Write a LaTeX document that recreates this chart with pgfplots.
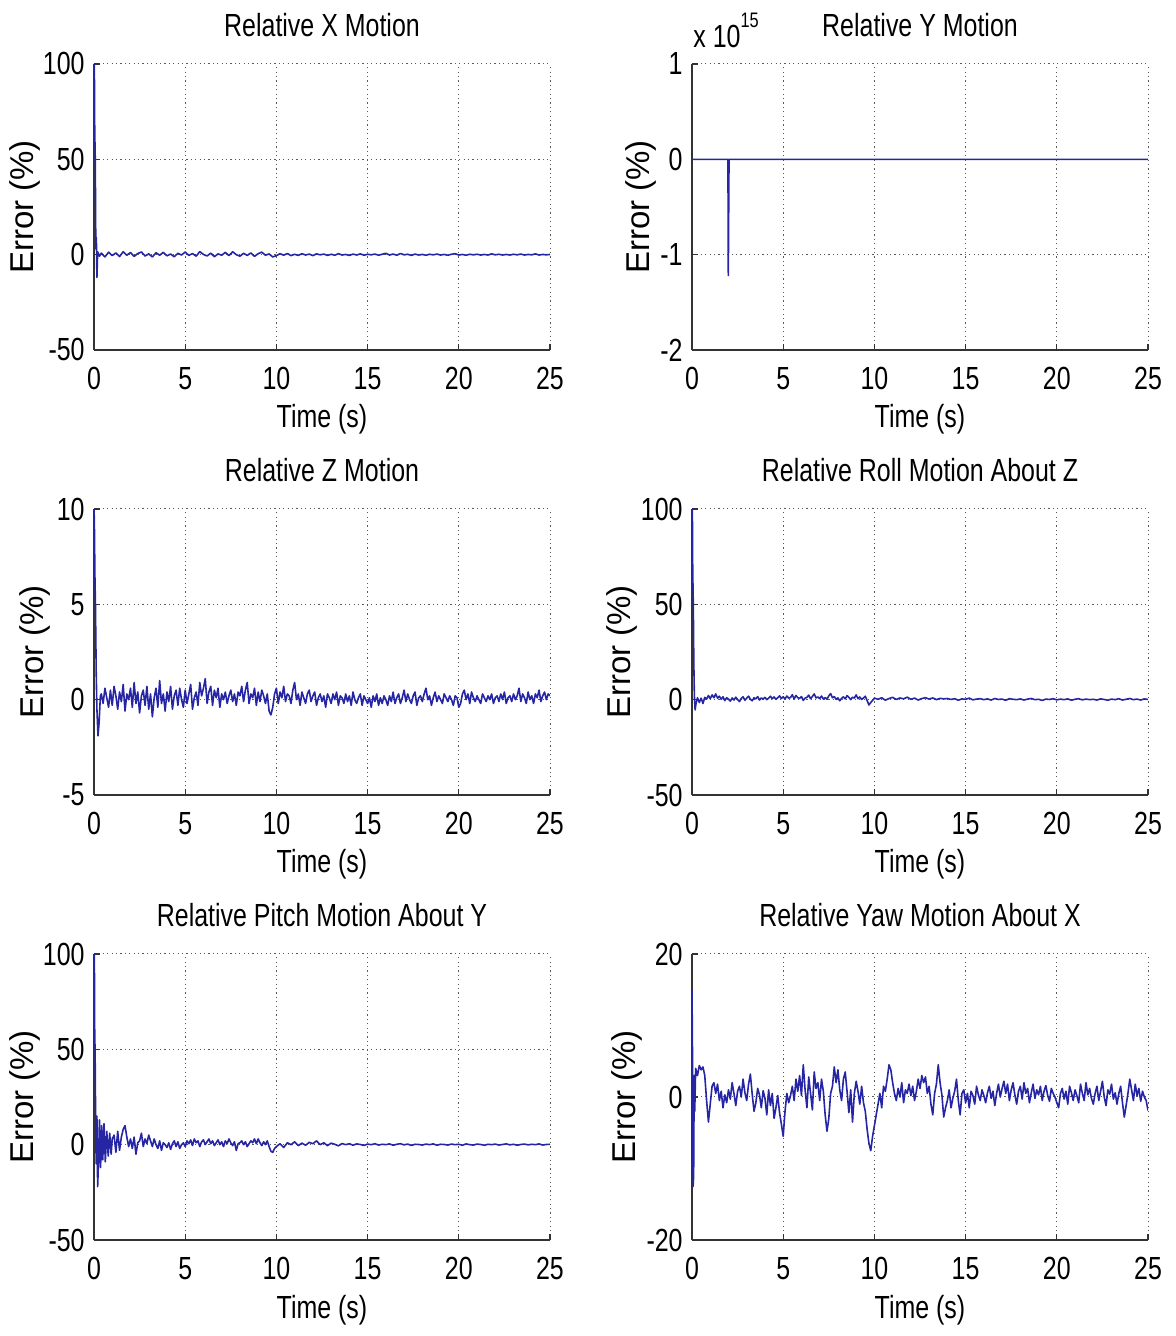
\documentclass[border=0pt]{standalone}
\usepackage{fontspec}
\setmainfont[FakeStretch=0.78]{Liberation Sans}
\newfontfamily\ylabfont{Liberation Sans}
\usepackage{pgfplots}
\pgfplotsset{compat=1.18}
\definecolor{mblue}{RGB}{38,38,165}
\pgfplotsset{
  mat/.style={
    scale only axis, width=228pt, height=143pt, anchor=south west,
    xmin=0, xmax=25, xtick={0,5,10,15,20,25}, xticklabels={0,5,10,15,20,25},
    axis lines*=left, tick align=inside, major tick length=3pt,
    grid=major, grid style={dash pattern=on 0.6pt off 1.6pt, black!65, line width=0.5pt},
    axis line style={black!80, line width=0.7pt},
    tick style={black!80, line width=0.6pt},
    xticklabel style={anchor=north, inner sep=0pt, yshift=-8.5pt},
    yticklabel style={anchor=east, inner sep=0pt, xshift=-4.5pt},
    xlabel={Time (s)},
    xlabel style={at={(axis description cs:0.5,0)}, anchor=base, yshift=-39pt, inner sep=0pt},
    title style={at={(axis description cs:0.5,1)}, anchor=base, yshift=7.5pt, inner sep=0pt},
    ylabel={\ylabfont\fontsize{16.5}{19}\selectfont Error (\%)},
    cycle list={{mblue, mark=none}},
    no markers,
    every axis plot post/.append style={line width=0.8pt, color=mblue, line join=round},
    clip mode=individual,
  },
  ylab/.style={ylabel style={at={([xshift=-#1]axis description cs:0,0.5)}, anchor=center, inner sep=0pt}},
}
\begin{document}
\fontsize{16}{19}\selectfont
\begin{tikzpicture}
\useasboundingbox (0,0) rectangle (587.5pt,668pt);
% ---------- Relative X Motion
\begin{axis}[mat, ylab=34.5pt, at={(47pt,493pt)}, title={Relative X Motion},
  ymin=-50, ymax=100, ytick={-50,0,50,100}, yticklabels={-50,0,50,100}]
\addplot coordinates {(0,100)(0.02,100)(0.04,65)(0.07,50)(0.1,3)(0.13,9)(0.16,-12)(0.2,1.5)(0.3,-0.8)
(0.4,0.8)(0.6,-1.2)(0.8,1.3)(1,-0.5)(1.2,0.9)(1.4,-1)(1.6,1.5)(1.8,-0.3)(2,1.1)(2.2,-0.9)(2.4,0.6)(2.6,1.4)(2.8,-0.7)(3,0.4)(3.2,-1.2)(3.4,1)(3.6,-0.3)(3.8,1.2)(4,-0.6)(4.2,0.3)(4.4,-1.1)(4.6,0.7)(4.8,-0.2)(5,1.4)(5.2,-0.4)(5.4,0.6)(5.6,-0.8)(5.8,1.6)(6,0.1)(6.2,-0.7)(6.4,0.8)(6.6,-1.1)(6.8,0.4)(7,-0.3)(7.2,1.2)(7.4,-0.5)(7.6,1.5)(7.8,0)(8,-0.8)(8.2,0.7)(8.4,-0.4)(8.6,0.9)(8.8,-0.9)(9,0.5)(9.2,1.3)(9.4,-0.3)(9.6,0.4)(9.8,-1.2)(10,-0.5)
(10.2,0.5)(10.4,-0.3)(10.6,0.6)(10.8,-0.5)(11,0.2)(11.2,-0.4)(11.4,0.5)(11.6,-0.2)(11.8,0.3)(12,-0.5)(12.2,0.4)(12.4,-0.1)(12.6,0.3)(12.8,-0.4)(13,0.2)(13.2,-0.3)(13.4,0.5)(13.6,-0.2)(13.8,0.1)(14,-0.4)(14.2,0.3)(14.4,-0.2)(14.6,0.4)(14.8,-0.3)(15,0.2)(15.2,-0.1)(15.4,0.3)(15.6,-0.3)(15.8,0.2)(16,0.7)(16.2,-0.2)(16.4,0.3)(16.6,-0.3)(16.8,0.6)(17,-0.1)(17.2,0.2)(17.4,-0.4)(17.6,0.3)(17.8,-0.2)(18,0.1)(18.2,-0.3)(18.4,0.2)(18.6,-0.1)(18.8,0.3)(19,-0.2)(19.2,0.1)(19.4,-0.3)(19.6,0.2)(19.8,0.5)(20,-0.2)(20.2,0.1)(20.4,-0.3)(20.6,0.2)(20.8,-0.1)(21,0.2)(21.2,-0.2)(21.4,0.1)(21.6,-0.2)(21.8,0.4)(22,-0.1)(22.2,0.2)(22.4,-0.2)(22.6,0.1)(22.8,-0.2)(23,0.2)(23.2,-0.1)(23.4,0.3)(23.6,-0.2)(23.8,0.1)(24,-0.1)(24.2,0.4)(24.4,-0.2)(24.6,0.1)(24.8,-0.1)(25,0.1)};
\end{axis}
% ---------- Relative Y Motion
\begin{axis}[mat, ylab=25.5pt, at={(346pt,493pt)}, title={Relative Y Motion},
  ymin=-2, ymax=1, ytick={-2,-1,0,1}, yticklabels={-2,-1,0,1}]
\addplot coordinates {(0,0)(1.97,0)(1.99,-1.22)(2.01,-0.6)(2.03,0)(25,0)};
\node[anchor=base west, inner sep=0pt, yshift=8pt, xshift=0.5pt] at (rel axis cs:0,1) {x 10\raisebox{10pt}{\fontsize{10.5}{12}\selectfont 15}};
\end{axis}
% ---------- Relative Z Motion
\begin{axis}[mat, ylab=29.5pt, at={(47pt,270.5pt)}, title={Relative Z Motion},
  ymin=-5, ymax=10, ytick={-5,0,5,10}, yticklabels={-5,0,5,10}]
\addplot coordinates {(0,10)(0.02,9.4)(0.05,6.5)(0.08,5)(0.12,1.5)(0.16,-0.5)(0.22,-1.9)(0.28,-1.2)(0.35,0.2)
(0.4,0.3)(0.5,-0.2)(0.6,0.6)(0.7,0.1)(0.8,-0.4)(0.9,0.5)
(1,-0.3)(1.1,0.7)(1.2,0.2)(1.3,-0.5)(1.4,0.4)(1.5,-0.1)(1.6,0.8)(1.7,-0.6)(1.8,0.3)(1.9,0)
(2,0.6)(2.1,-0.4)(2.2,0.9)(2.3,-0.2)(2.4,0.4)(2.5,-0.7)(2.6,0.2)(2.7,0.5)(2.8,-0.3)(2.9,0.7)
(3,-0.5)(3.1,0.3)(3.2,-0.9)(3.3,0.1)(3.4,0.6)(3.5,-0.4)(3.6,1)(3.7,-0.2)(3.8,0.3)(3.9,-0.6)
(4,0.4)(4.1,-0.1)(4.2,0.7)(4.3,-0.5)(4.4,0.2)(4.5,0.5)(4.6,-0.3)(4.7,0.6)(4.8,0)(4.9,-0.4)
(5,0.5)(5.1,-0.2)(5.2,0.3)(5.3,0.8)(5.4,-0.5)(5.5,0.1)(5.6,0.4)(5.7,-0.3)(5.8,0.9)(5.9,0.2)
(6,0.6)(6.1,1.1)(6.2,-0.2)(6.3,0.4)(6.4,0.7)(6.5,-0.3)(6.6,0.5)(6.7,0.1)(6.8,0.6)(6.9,-0.4)
(7,0.3)(7.1,0)(7.2,0.4)(7.3,-0.2)(7.4,0.2)(7.5,0.5)(7.6,-0.1)(7.7,0.3)(7.8,-0.3)(7.9,0.4)
(8,0.2)(8.1,0.7)(8.2,-0.1)(8.3,0.5)(8.4,0.9)(8.5,-0.2)(8.6,0.3)(8.7,0.1)(8.8,0.6)(8.9,-0.3)
(9,0.4)(9.1,-0.1)(9.2,0.5)(9.3,0.2)(9.4,-0.2)(9.5,0.3)(9.6,-0.6)(9.7,-0.8)(9.8,-0.4)(9.9,0.3)
(10,0.6)(10.1,-0.2)(10.2,0.4)(10.3,0.1)(10.4,0.7)(10.5,-0.1)(10.6,0.3)(10.7,0.2)(10.8,-0.2)(10.9,0.5)
(11,0.9)(11.1,0)(11.2,0.3)(11.3,-0.3)(11.4,0.4)(11.5,0.1)(11.6,-0.2)(11.7,0.3)(11.8,0.5)(11.9,-0.1)
(12,0.2)(12.1,0.4)(12.2,-0.3)(12.3,0.1)(12.4,0.3)(12.5,-0.1)(12.6,0.2)(12.7,-0.4)(12.8,0.3)(12.9,0.1)
(13,-0.2)(13.1,0.3)(13.2,0)(13.3,0.4)(13.4,-0.3)(13.5,0.2)(13.6,0.1)(13.7,-0.2)(13.8,0.3)(13.9,-0.1)
(14,0.2)(14.1,-0.3)(14.2,0.4)(14.3,0)(14.4,-0.2)(14.5,0.1)(14.6,0.3)(14.7,-0.3)(14.8,0.2)(14.9,0)
(15,-0.2)(15.1,0.1)(15.2,-0.4)(15.3,0.2)(15.4,-0.1)(15.5,0.3)(15.6,-0.3)(15.7,0.1)(15.8,-0.2)(15.9,0.2)
(16,0)(16.1,-0.3)(16.2,0.2)(16.3,-0.1)(16.4,0.4)(16.5,-0.2)(16.6,0.1)(16.7,0.3)(16.8,-0.2)(16.9,0.1)
(17,0.5)(17.1,-0.1)(17.2,0.3)(17.3,0)(17.4,-0.2)(17.5,0.2)(17.6,0.4)(17.7,-0.3)(17.8,0.1)(17.9,0.2)
(18,-0.1)(18.1,0.3)(18.2,0.6)(18.3,0)(18.4,0.2)(18.5,-0.3)(18.6,0.1)(18.7,0.4)(18.8,-0.1)(18.9,0.2)
(19,0)(19.1,-0.2)(19.2,0.3)(19.3,0.1)(19.4,-0.1)(19.5,0.2)(19.6,0)(19.7,-0.3)(19.8,0.2)(19.9,0.1)
(20,-0.4)(20.1,-0.2)(20.2,0.3)(20.3,0.5)(20.4,0)(20.5,0.3)(20.6,-0.2)(20.7,0.4)(20.8,0.1)(20.9,-0.1)
(21,0.2)(21.1,0)(21.2,-0.2)(21.3,0.3)(21.4,0.1)(21.5,-0.1)(21.6,0.2)(21.7,0)(21.8,0.3)(21.9,-0.2)
(22,0.1)(22.1,0.2)(22.2,-0.1)(22.3,0.3)(22.4,0)(22.5,0.4)(22.6,-0.2)(22.7,0.1)(22.8,0.2)(22.9,-0.1)
(23,0.3)(23.1,0)(23.2,0.2)(23.3,0.6)(23.4,-0.1)(23.5,0.3)(23.6,0.1)(23.7,-0.2)(23.8,0.4)(23.9,0)
(24,0.2)(24.1,-0.2)(24.2,0.3)(24.3,0.1)(24.4,0.5)(24.5,-0.1)(24.6,0.2)(24.7,0.4)(24.8,0)(24.9,0.3)(25,0.2)};
\end{axis}
% ---------- Relative Roll Motion About Z
\begin{axis}[mat, ylab=35pt, at={(346pt,270.5pt)}, title={Relative Roll Motion About Z},
  ymin=-50, ymax=100, ytick={-50,0,50,100}, yticklabels={-50,0,50,100}]
\addplot coordinates {(0,100)(0.02,100)(0.04,67)(0.07,51)(0.1,19)(0.13,2)(0.17,-5.4)(0.22,-2)(0.3,1)
(0.4,-1.5)(0.5,0.8)(0.6,-2)(0.7,1.2)(0.8,0.3)(0.9,2.2)
(1,0.5)(1.1,2.5)(1.2,1)(1.3,3)(1.4,0.8)(1.5,1.8)(1.6,0.2)(1.7,1.5)(1.8,-0.5)(1.9,1)
(2,0.3)(2.1,-0.8)(2.2,0.9)(2.3,-0.2)(2.4,1.3)(2.5,0)(2.6,-1)(2.7,0.6)(2.8,1.5)(2.9,-0.3)
(3,0.8)(3.1,1.8)(3.2,0.2)(3.3,-0.6)(3.4,1)(3.5,0.4)(3.6,1.6)(3.7,-0.2)(3.8,0.9)(3.9,0.3)
(4,1.2)(4.1,0)(4.2,0.8)(4.3,1.8)(4.4,0.5)(4.5,1.4)(4.6,0.2)(4.7,1)(4.8,2)(4.9,0.6)
(5,1.5)(5.1,0.4)(5.2,1.9)(5.3,0.8)(5.4,1.1)(5.5,2.6)(5.6,0.3)(5.7,2.2)(5.8,1)(5.9,0.7)
(6,1.6)(6.1,-0.4)(6.2,0.8)(6.3,1.2)(6.4,2.4)(6.5,0.5)(6.6,1.7)(6.7,3)(6.8,0.9)(6.9,1.4)
(7,0.6)(7.1,1.9)(7.2,0.3)(7.3,1.1)(7.4,0.2)(7.5,2)(7.6,3.2)(7.7,1)(7.8,1.6)(7.9,0.2)
(8,0.9)(8.1,-0.6)(8.2,0.7)(8.3,1.5)(8.4,0.4)(8.5,2.1)(8.6,1.2)(8.7,0)(8.8,1.3)(8.9,0.8)
(9,2.5)(9.1,0.5)(9.2,1.4)(9.3,0.1)(9.4,0.9)(9.5,1.8)(9.6,-0.5)(9.7,-2.8)(9.8,-1.5)(9.9,-0.4)
(10,0.8)(10.2,0.2)(10.4,1)(10.6,-0.3)(10.8,0.6)(11,1.2)(11.2,0.1)(11.4,0.9)(11.6,0.4)(11.8,1.3)
(12,0.2)(12.2,0.8)(12.4,-0.2)(12.6,0.6)(12.8,1)(13,0.3)(13.2,0.9)(13.4,0)(13.6,0.7)(13.8,0.4)
(14,0.6)(14.2,0.1)(14.4,0.5)(14.6,-0.3)(14.8,0.4)(15,0.2)(15.2,0.8)(15.4,-0.1)(15.6,0.3)(15.8,0.5)
(16,0)(16.2,0.4)(16.4,-0.2)(16.6,0.6)(16.8,0.1)(17,0.3)(17.2,-0.3)(17.4,0.5)(17.6,0.2)(17.8,0)
(18,0.4)(18.2,-0.2)(18.4,0.3)(18.6,0.6)(18.8,0)(19,0.2)(19.2,-0.4)(19.4,0.3)(19.6,0.1)(19.8,0.5)
(20,-0.1)(20.2,0.3)(20.4,0)(20.6,0.4)(20.8,-0.3)(21,0.2)(21.2,0.5)(21.4,-0.1)(21.6,0.3)(21.8,0)
(22,0.2)(22.2,-0.2)(22.4,0.4)(22.6,0.1)(22.8,-0.3)(23,0.3)(23.2,0)(23.4,0.5)(23.6,-0.2)(23.8,0.2)
(24,0.6)(24.2,0)(24.4,0.3)(24.6,-0.2)(24.8,0.4)(25,0.1)};
\end{axis}
% ---------- Relative Pitch Motion About Y
\begin{axis}[mat, ylab=34.5pt, at={(47pt,48pt)}, title={Relative Pitch Motion About Y},
  ymin=-50, ymax=100, ytick={-50,0,50,100}, yticklabels={-50,0,50,100}]
\addplot coordinates {(0,100)(0.02,100)(0.04,57)(0.06,50)(0.09,12)(0.12,-10)(0.16,15)(0.2,-22)(0.25,-8)(0.3,13)(0.36,-12)(0.42,10)(0.48,-8)(0.55,11)(0.62,-9)(0.7,7)(0.78,-6)(0.86,6)(0.94,-5)(1,3)
(1.1,5)(1.2,-4)(1.3,7)(1.4,-3)(1.5,4)(1.6,8)(1.7,10)(1.8,4)(1.9,-1)
(2,3)(2.1,-2)(2.2,4)(2.3,-5)(2.4,1)(2.5,2)(2.6,6)(2.7,-1)(2.8,3)(2.9,0.5)
(3,5)(3.1,2)(3.2,-1)(3.3,3)(3.4,0)(3.5,-2)(3.6,2)(3.7,-3)(3.8,1)(3.9,0)
(4,-1.5)(4.1,1)(4.2,-2.5)(4.3,0.5)(4.4,2)(4.5,-1)(4.6,1.5)(4.7,-2)(4.8,0)(4.9,1)
(5,-1)(5.1,2)(5.2,0.5)(5.3,2.5)(5.4,-0.5)(5.5,3)(5.6,1)(5.7,2)(5.8,-1)(5.9,1.5)
(6,2.5)(6.1,0)(6.2,1.5)(6.3,3)(6.4,0.5)(6.5,2)(6.6,-0.5)(6.7,1)(6.8,2.5)(6.9,0)
(7,1.5)(7.1,-1)(7.2,2)(7.3,0.5)(7.4,3)(7.5,1)(7.6,-0.5)(7.7,1.5)(7.8,-3)(7.9,0.5)
(8,1)(8.1,2)(8.2,0)(8.3,1.5)(8.4,-1)(8.5,0.5)(8.6,2)(8.7,1)(8.8,3)(8.9,0.5)
(9,3)(9.1,1)(9.2,-0.5)(9.3,1.5)(9.4,0)(9.5,2)(9.6,-1)(9.7,-3.5)(9.8,-4)(9.9,-2)
(10,-1)(10.2,0.5)(10.4,-1.5)(10.6,1)(10.8,0)(11,1.5)(11.2,-0.5)(11.4,0.8)(11.6,-0.3)(11.8,1.2)
(12,0.5)(12.2,2)(12.4,0)(12.6,1)(12.8,-0.5)(13,0.8)(13.2,0.2)(13.4,-0.6)(13.6,0.6)(13.8,0)
(14,0.5)(14.2,-0.3)(14.4,0.4)(14.6,0.1)(14.8,-0.4)(15,0.3)(15.2,0)(15.4,0.5)(15.6,-0.2)(15.8,0.2)
(16,0)(16.2,0.4)(16.4,-0.3)(16.6,0.2)(16.8,0.5)(17,-0.1)(17.2,0.3)(17.4,-0.4)(17.6,0.2)(17.8,0.1)
(18,-0.2)(18.2,0.3)(18.4,0)(18.6,0.4)(18.8,-0.3)(19,0.2)(19.2,0.1)(19.4,-0.2)(19.6,0.3)(19.8,0)
(20,0.2)(20.2,-0.3)(20.4,0.4)(20.6,0)(20.8,-0.2)(21,0.3)(21.2,0.1)(21.4,-0.3)(21.6,0.2)(21.8,0)
(22,0.3)(22.2,-0.2)(22.4,0.1)(22.6,0.4)(22.8,-0.1)(23,0.2)(23.2,-0.3)(23.4,0.1)(23.6,0.3)(23.8,-0.1)
(24,0.2)(24.2,0)(24.4,0.4)(24.6,-0.2)(24.8,0.1)(25,0.2)};
\end{axis}
% ---------- Relative Yaw Motion About X
\begin{axis}[mat, ylab=32.5pt, at={(346pt,48pt)}, title={Relative Yaw Motion About X},
  ymin=-20, ymax=20, ytick={-20,0,20}, yticklabels={-20,0,20}]
\addplot coordinates {(0,15)(0.03,5)(0.06,-12.5)(0.09,-11)(0.12,3)(0.15,-2)(0.2,4)(0.25,3.5)(0.3,3)
(0.4,4.4)(0.5,3.8)(0.6,4.2)(0.7,3)(0.8,-0.5)(0.9,-3.5)
(1,-1)(1.1,1.5)(1.2,2)(1.3,0.5)(1.4,1.8)(1.5,-0.5)(1.6,0.8)(1.7,-1.5)(1.8,0.3)(1.9,-0.8)
(2,1)(2.1,-0.3)(2.2,2)(2.3,0.5)(2.4,-1.2)(2.5,0.8)(2.6,1.5)(2.7,0)(2.8,2.5)(2.9,0.6)
(3,-0.5)(3.1,1.8)(3.2,3.2)(3.3,0.4)(3.4,-2)(3.5,-0.8)(3.6,1.2)(3.7,0.3)(3.8,-1.5)(3.9,0.9)
(4,-0.2)(4.1,-2.5)(4.2,1)(4.3,-1.2)(4.4,0.5)(4.5,-3)(4.6,-1.5)(4.7,0.2)(4.8,-2.2)(4.9,-3.8)
(5,-5.5)(5.1,-2)(5.2,0.5)(5.3,-0.8)(5.4,0.2)(5.5,1.5)(5.6,-0.5)(5.7,2.5)(5.8,0.8)(5.9,3)
(6,0.2)(6.1,4.5)(6.2,1)(6.3,-1.5)(6.4,2.8)(6.5,0.5)(6.6,-1.8)(6.7,3.5)(6.8,1.2)(6.9,2)
(7,-0.5)(7.1,2.5)(7.2,0.8)(7.3,-2.5)(7.4,-4.8)(7.5,-3)(7.6,0.5)(7.7,1.5)(7.8,4.2)(7.9,2)
(8,3.8)(8.1,1)(8.2,-0.5)(8.3,2.5)(8.4,3.5)(8.5,0.8)(8.6,-2.2)(8.7,1)(8.8,-3.5)(8.9,0.5)
(9,2.2)(9.1,0.8)(9.2,-1)(9.3,1.5)(9.4,-0.8)(9.5,-2)(9.6,-4.5)(9.7,-6.5)(9.8,-7.5)(9.9,-5.5)
(10,-4)(10.1,-2.5)(10.2,-1)(10.3,0.5)(10.4,-1.5)(10.5,1.5)(10.6,0.8)(10.7,2.5)(10.8,4.5)(10.9,3.8)
(11,2)(11.1,0.5)(11.2,-0.5)(11.3,1.2)(11.4,0)(11.5,2)(11.6,-0.8)(11.7,1)(11.8,0.5)(11.9,1.8)
(12,0.2)(12.1,1.5)(12.2,-0.5)(12.3,0.8)(12.4,2.5)(12.5,1.2)(12.6,3)(12.7,2)(12.8,2.8)(12.9,0.5)
(13,1.5)(13.1,-1)(13.2,-2.5)(13.3,0.5)(13.4,1.8)(13.5,4.5)(13.6,2)(13.7,0.3)(13.8,-2.8)(13.9,-1.5)
(14,-0.5)(14.1,1)(14.2,-1.5)(14.3,-0.2)(14.4,0.8)(14.5,2.5)(14.6,-0.5)(14.7,-2.5)(14.8,0.5)(14.9,1)
(15,-0.8)(15.1,0.5)(15.2,-1.5)(15.3,0.8)(15.4,0.2)(15.5,-1)(15.6,1.5)(15.7,0.3)(15.8,-0.5)(15.9,1)
(16,0.2)(16.1,-0.8)(16.2,0.6)(16.3,1.5)(16.4,-0.2)(16.5,0.8)(16.6,-1.2)(16.7,0.5)(16.8,1.8)(16.9,0)
(17,1.2)(17.1,2.2)(17.2,0.5)(17.3,1.8)(17.4,-0.5)(17.5,1)(17.6,2)(17.7,0.3)(17.8,-1)(17.9,0.8)
(18,1.5)(18.1,-0.3)(18.2,2)(18.3,0.5)(18.4,1.2)(18.5,-0.8)(18.6,0.6)(18.7,1.8)(18.8,-0.2)(18.9,1)
(19,0.3)(19.1,1.5)(19.2,-0.5)(19.3,0.8)(19.4,1.6)(19.5,0.2)(19.6,-0.6)(19.7,1.2)(19.8,0.5)(19.9,0)
(20,-0.8)(20.1,-1.5)(20.2,0.5)(20.3,1.2)(20.4,-0.3)(20.5,0.8)(20.6,-1)(20.7,1.5)(20.8,0.6)(20.9,-0.5)
(21,1)(21.1,0.2)(21.2,-0.8)(21.3,1.8)(21.4,0.5)(21.5,-0.5)(21.6,2)(21.7,0.3)(21.8,1.2)(21.9,-0.2)
(22,-1)(22.1,0.5)(22.2,1.5)(22.3,-0.5)(22.4,0.8)(22.5,2.2)(22.6,0)(22.7,-1.2)(22.8,1)(22.9,0.4)
(23,1.8)(23.1,-0.3)(23.2,0.6)(23.3,-1)(23.4,0.5)(23.5,1.5)(23.6,-0.8)(23.7,-2.8)(23.8,-1.2)(23.9,0.5)
(24,2.5)(24.1,1)(24.2,-0.5)(24.3,1.8)(24.4,0.2)(24.5,1.2)(24.6,-0.6)(24.7,0.8)(24.8,0)(24.9,-0.5)(25,-1.9)};
\end{axis}
\end{tikzpicture}
\end{document}
